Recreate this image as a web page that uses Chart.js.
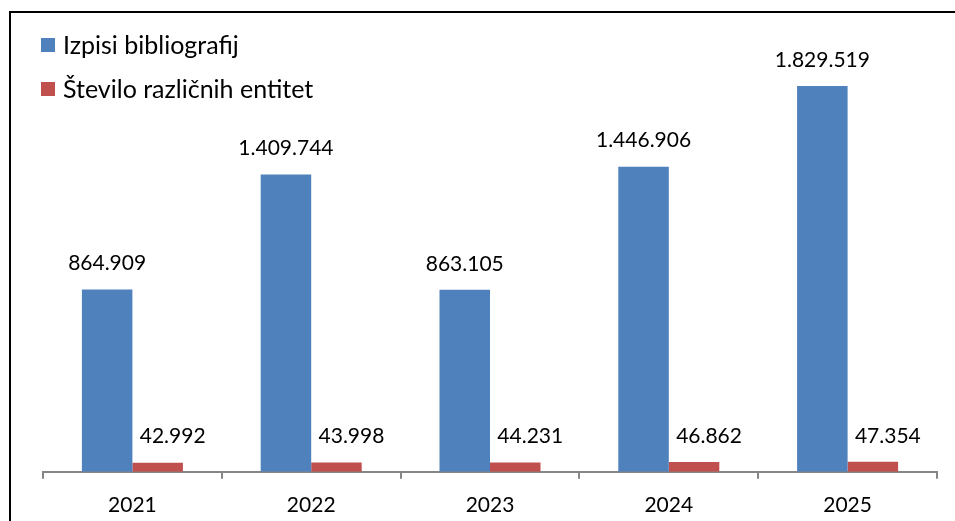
<!DOCTYPE html>
<html>
<head>
<meta charset="utf-8">
<script src="https://cdn.jsdelivr.net/npm/chart.js@4.4.1/dist/chart.umd.min.js"></script>
<style>
  html, body { margin: 0; padding: 0; background: #fff; }
</style>
</head>
<body>
<canvas id="chart" width="955" height="521"></canvas>
<script>
const years = ['2021', '2022', '2023', '2024', '2025'];
const izpisi = [864909, 1409744, 863105, 1446906, 1829519];
const entitete = [42992, 43998, 44231, 46862, 47354];
const seriesNames = ['Izpisi bibliografij', 'Število različnih entitet'];
const seriesColors = ['#4F81BD', '#C0504D'];
const yMax = 2000000;

const FONT = 'Lato';

// 1234567 -> 1.234.567
const fmt = v => String(v).replace(/\B(?=(\d{3})+(?!\d))/g, '.');

// black frame line on top and left, as in the original
const framePlugin = {
  id: 'frame',
  beforeDraw(chart) {
    const ctx = chart.ctx;
    ctx.save();
    ctx.fillStyle = '#fff';
    ctx.fillRect(0, 0, chart.width, chart.height);
    ctx.strokeStyle = '#000';
    ctx.lineWidth = 2;
    ctx.beginPath();
    ctx.moveTo(10, chart.height);
    ctx.lineTo(10, 12);
    ctx.lineTo(chart.width, 12);
    ctx.stroke();
    ctx.restore();
  }
};

// value labels above bars; second series is nudged right like in Excel
const labelPlugin = {
  id: 'valueLabels',
  afterDatasetsDraw(chart) {
    const ctx = chart.ctx;
    ctx.save();
    ctx.font = `21px ${FONT}`;
    ctx.fillStyle = '#000';
    ctx.textAlign = 'center';
    ctx.textBaseline = 'middle';
    chart.data.datasets.forEach((ds, i) => {
      const meta = chart.getDatasetMeta(i);
      meta.data.forEach((bar, j) => {
        const dx = i === 1 ? 15 : 0;
        ctx.fillText(fmt(ds.data[j]), bar.x + dx, bar.y - 26);
      });
    });
    ctx.restore();
  }
};

// vertical legend in the top-left corner
const legendPlugin = {
  id: 'boxLegend',
  afterDraw(chart) {
    const ctx = chart.ctx;
    ctx.save();
    ctx.font = `25px ${FONT}`;
    ctx.textBaseline = 'middle';
    ctx.textAlign = 'left';
    chart.data.datasets.forEach((ds, i) => {
      const y = 45 + i * 44;
      ctx.fillStyle = ds.backgroundColor;
      ctx.fillRect(41, y - 7, 14, 14);
      ctx.fillStyle = '#000';
      ctx.fillText(ds.label, 63, y + 1);
    });
    ctx.restore();
  }
};

new Chart(document.getElementById('chart'), {
  type: 'bar',
  data: {
    labels: years,
    datasets: [
      { label: seriesNames[0], data: izpisi, backgroundColor: seriesColors[0] },
      { label: seriesNames[1], data: entitete, backgroundColor: seriesColors[1] }
    ]
  },
  options: {
    responsive: false,
    devicePixelRatio: 1,
    animation: false,
    categoryPercentage: 0.565,
    barPercentage: 1,
    layout: { padding: { left: 43, right: 18, top: 50, bottom: -11 } },
    plugins: {
      legend: { display: false },
      tooltip: { enabled: false }
    },
    scales: {
      x: {
        grid: {
          display: true,
          drawOnChartArea: false,
          drawTicks: true,
          tickLength: 7,
          color: '#868686',
          lineWidth: 2,
          offset: true
        },
        border: { display: true, color: '#868686', width: 2 },
        ticks: { color: '#000', font: { family: FONT, size: 21 }, padding: 14 }
      },
      y: {
        display: false,
        min: 0,
        max: yMax
      }
    }
  },
  plugins: [framePlugin, labelPlugin, legendPlugin]
});
</script>
</body>
</html>
